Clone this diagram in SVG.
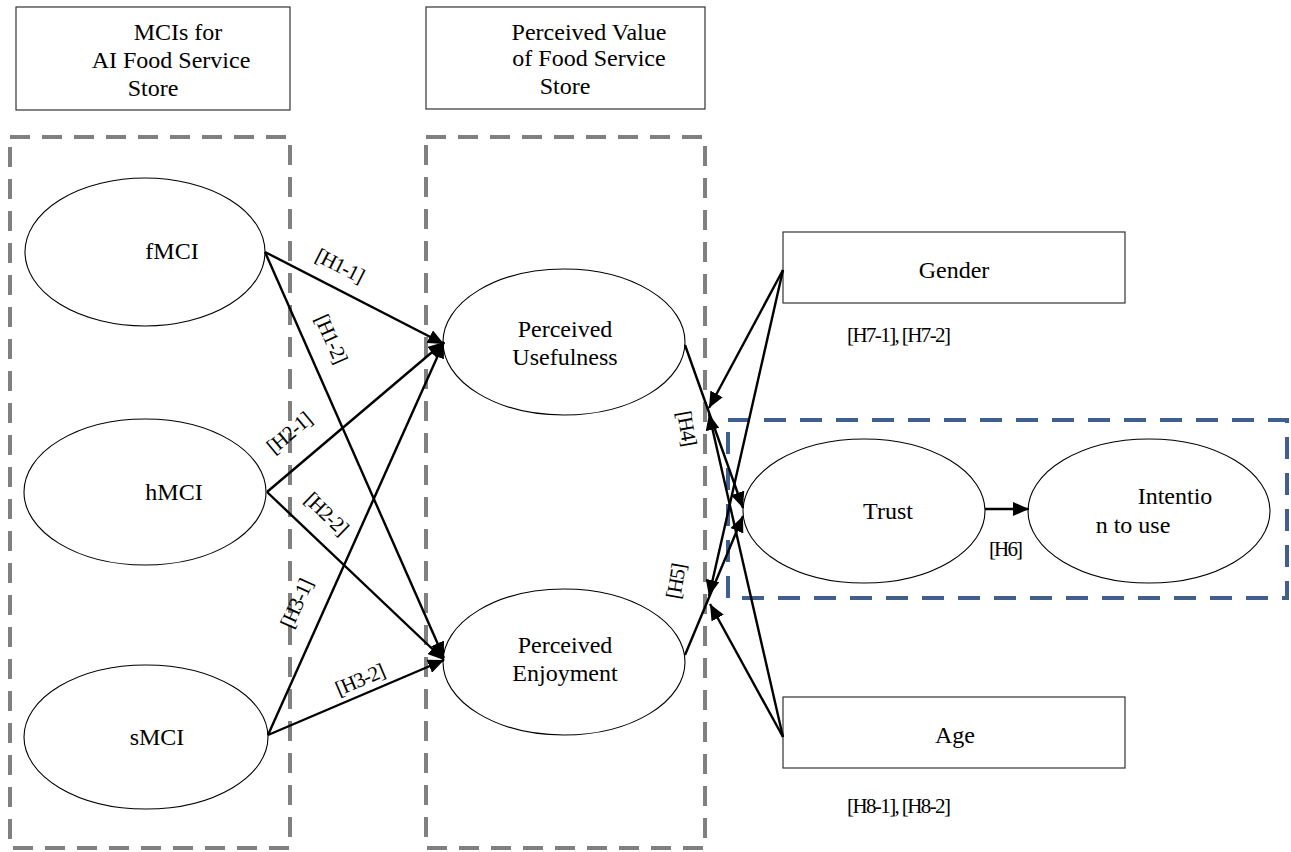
<svg xmlns="http://www.w3.org/2000/svg" width="1291" height="852" viewBox="0 0 1291 852">
<style>
.box{fill:#fff;stroke:#333;stroke-width:1.2}
.ell{fill:#fff;stroke:#000;stroke-width:1.1}
.gd{fill:none;stroke:#808080;stroke-width:4;stroke-dasharray:20 12}
.bd{fill:none;stroke:#3f5f8f;stroke-width:4;stroke-dasharray:22 14}
.t{font-family:"Liberation Serif","Times New Roman",serif;font-size:24px;fill:#000;text-anchor:middle}
.l{font-family:"Liberation Serif","Times New Roman",serif;font-size:21px;fill:#000;text-anchor:middle}
.c{stroke:#000;stroke-width:2.4;fill:none;marker-end:url(#ah)}
</style>
<defs>
<marker id="ah" markerUnits="userSpaceOnUse" markerWidth="18" markerHeight="14" refX="16" refY="7" orient="auto">
<path d="M0,0 L16,7 L0,14 Z" fill="#000"/>
</marker>
</defs>
<rect width="1291" height="852" fill="#fff"/>

<g id="dashed-groups">
<rect class="gd" x="10" y="137" width="280" height="711"/>
<rect class="gd" x="426" y="137" width="279" height="711"/>
<rect class="bd" x="728" y="420" width="559" height="178"/>
</g>

<g id="header-mci">
<rect class="box" x="16" y="7" width="274" height="103"/>
<text class="t" x="178" y="40">MCIs for</text>
<text class="t" x="171" y="68">AI Food Service</text>
<text class="t" x="153" y="96">Store</text>
</g>
<g id="header-pv">
<rect class="box" x="426" y="7" width="279" height="102"/>
<text class="t" x="589" y="40">Perceived Value</text>
<text class="t" x="589" y="66">of Food Service</text>
<text class="t" x="565" y="94">Store</text>
</g>

<g id="fMCI"><ellipse class="ell" cx="145" cy="252" rx="120" ry="74"/><text class="t" x="172" y="259">fMCI</text></g>
<g id="hMCI"><ellipse class="ell" cx="145" cy="492" rx="121" ry="73"/><text class="t" x="174" y="500">hMCI</text></g>
<g id="sMCI"><ellipse class="ell" cx="146" cy="737" rx="122" ry="72"/><text class="t" x="157" y="745">sMCI</text></g>
<g id="PU"><ellipse class="ell" cx="564" cy="342" rx="121" ry="73"/><text class="t" x="565" y="337">Perceived</text><text class="t" x="565" y="365">Usefulness</text></g>
<g id="PE"><ellipse class="ell" cx="564" cy="662" rx="121" ry="73"/><text class="t" x="565" y="653">Perceived</text><text class="t" x="565" y="681">Enjoyment</text></g>
<g id="Trust"><ellipse class="ell" cx="864" cy="511" rx="121" ry="72"/><text class="t" x="888" y="519">Trust</text></g>
<g id="Intention"><ellipse class="ell" cx="1149" cy="511" rx="121" ry="72"/><text class="t" x="1175" y="504">Intentio</text><text class="t" x="1133" y="533">n to use</text></g>
<g id="Gender"><rect class="box" x="783" y="232" width="342" height="71"/><text class="t" x="954" y="278">Gender</text></g>
<g id="Age"><rect class="box" x="783" y="697" width="342" height="71"/><text class="t" x="955" y="743">Age</text></g>

<g id="connectors">
<line class="c" x1="265" y1="252" x2="444" y2="344"/>
<line class="c" x1="265" y1="252" x2="444" y2="658"/>
<line class="c" x1="267" y1="492" x2="444" y2="342"/>
<line class="c" x1="267" y1="492" x2="444" y2="660"/>
<line class="c" x1="268" y1="735" x2="444" y2="342"/>
<line class="c" x1="268" y1="735" x2="444" y2="660"/>
<line class="c" x1="685" y1="345" x2="743" y2="508"/>
<line class="c" x1="685" y1="655" x2="743" y2="516"/>
<line class="c" x1="783" y1="270" x2="709" y2="408"/>
<line class="c" x1="783" y1="270" x2="709" y2="596"/>
<line class="c" x1="783" y1="737" x2="709" y2="414"/>
<line class="c" x1="783" y1="737" x2="710" y2="604"/>
<line class="c" x1="985" y1="509" x2="1029" y2="509"/>
</g>

<g id="labels">
<text class="l" transform="translate(337,272) rotate(27)" textLength="52">[H1-1]</text>
<text class="l" transform="translate(325,342) rotate(66)" textLength="52">[H1-2]</text>
<text class="l" transform="translate(294,438) rotate(-40)" textLength="52">[H2-1]</text>
<text class="l" transform="translate(322,519) rotate(44)" textLength="52">[H2-2]</text>
<text class="l" transform="translate(303,606) rotate(-66)" textLength="52">[H3-1]</text>
<text class="l" transform="translate(363,686) rotate(-23)" textLength="52">[H3-2]</text>
<text class="l" transform="translate(680,430) rotate(80)" textLength="36">[H4]</text>
<text class="l" transform="translate(683,582) rotate(-80)" textLength="36">[H5]</text>
<text class="l" x="1006" y="556" textLength="34">[H6]</text>
<text class="l" x="899" y="342" textLength="104">[H7-1], [H7-2]</text>
<text class="l" x="899" y="813" textLength="104">[H8-1], [H8-2]</text>
</g>
</svg>
